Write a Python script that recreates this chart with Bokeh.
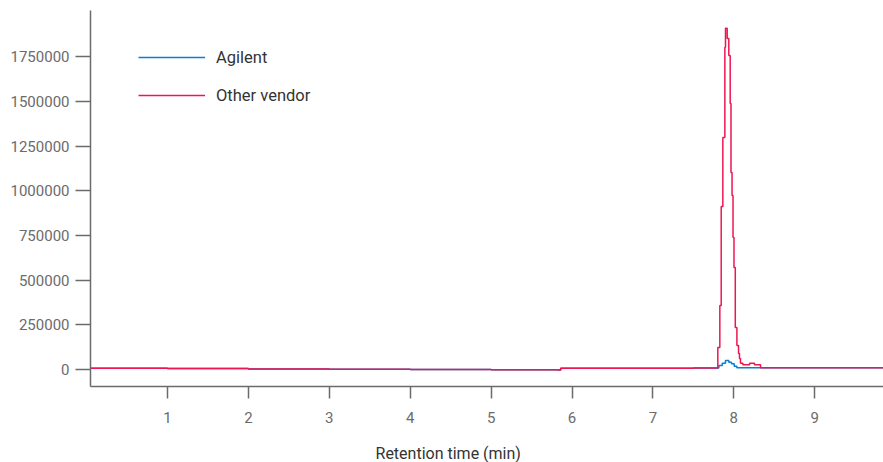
from bokeh.plotting import figure
from bokeh.layouts import column
from bokeh.models import Range1d, FixedTicker, BasicTickFormatter, Legend, LegendItem
from bokeh.core.properties import value
from bokeh.embed import file_html
from bokeh.resources import INLINE

# Retention time (min) and signal for the two chromatograms
t_other = [0.05, 1.0, 2.0, 3.0, 4.0, 5.0, 5.83, 5.86, 6.5, 7.0, 7.5, 7.782,
           7.802, 7.827, 7.844, 7.864, 7.889, 7.897, 7.918, 7.938, 7.955, 7.965,
           7.978, 7.990, 8.002, 8.018, 8.038, 8.058, 8.070, 8.082, 8.112, 8.195,
           8.255, 8.33, 9.0, 9.85]
v_other = [7000, 5000, 3000, 1000, 0, -2000, -3000, 7000, 7000, 7500, 8000, 8000,
           123000, 358000, 912000, 1298000, 1803000, 1909000, 1851000, 1756000, 1488000, 1102000,
           973000, 738000, 570000, 235000, 134000, 89000, 61000, 35000, 26000, 35000,
           26000, 10000, 9500, 9500]

t_agilent = [0.05, 1.0, 2.0, 3.0, 4.0, 5.0, 5.83, 5.86, 6.5, 7.0, 7.5, 7.80,
             7.815, 7.857, 7.897, 7.938, 7.971, 8.005, 8.037, 9.0, 9.85]
v_agilent = [7000, 5000, 3000, 1000, 0, -2000, -3000, 7000, 7000, 7500, 8000, 8000,
             22000, 35000, 50000, 41000, 32000, 18000, 9500, 9500, 9500]

y_ticks = [0, 250000, 500000, 750000, 1000000, 1250000, 1500000, 1750000]
x_ticks = [1, 2, 3, 4, 5, 6, 7, 8, 9]
x_title = "Retention time (min)"

FONT = "Roboto"
GREY = "#6b6b6b"

x_range = Range1d(0.048, 9.85)
p = figure(width=883, height=432, output_backend="svg", toolbar_location=None,
           x_range=x_range, y_range=Range1d(-95000, 2008000),
           min_border_left=90, min_border_right=0, min_border_top=10, min_border_bottom=46)
p.outline_line_color = None
p.grid.visible = False
p.background_fill_color = "white"
p.border_fill_color = "white"

r_ag = p.step(t_agilent, v_agilent, mode="after", line_color="#0b7fd1", line_width=1.5)
r_ot = p.step(t_other, v_other, mode="after", line_color="#ee1650", line_width=1.5)

for ax in (p.xaxis[0], p.yaxis[0]):
    ax.axis_line_color = GREY
    ax.axis_line_width = 1.5
    ax.major_tick_line_color = GREY
    ax.major_tick_line_width = 1.5
    ax.minor_tick_line_color = None
    ax.major_tick_in = 0
    ax.major_label_text_font = FONT
    ax.major_label_text_font_size = "15px"
    ax.major_label_text_color = GREY

p.xaxis.ticker = FixedTicker(ticks=x_ticks)
p.xaxis.major_tick_out = 12
p.xaxis.major_label_standoff = 13

p.yaxis.ticker = FixedTicker(ticks=y_ticks)
p.yaxis.formatter = BasicTickFormatter(use_scientific=False)
p.yaxis.major_tick_out = 15
p.yaxis.major_label_standoff = 6

legend = Legend(items=[LegendItem(label="Agilent", renderers=[r_ag]),
                       LegendItem(label="Other vendor", renderers=[r_ot])],
                location=(48, 281), padding=0, margin=0, spacing=18,
                glyph_width=67, glyph_height=20, label_height=20, label_standoff=11,
                label_text_font=FONT, label_text_font_size="16.5px", label_text_color="#333333",
                border_line_color=None, background_fill_alpha=0)
p.add_layout(legend, "center")

# x-axis title strip (title sits left of the frame centre, as in the original)
pt = figure(width=883, height=30, output_backend="svg", toolbar_location=None,
            x_range=x_range, y_range=Range1d(0, 1),
            min_border_left=90, min_border_right=0, min_border_top=0, min_border_bottom=0)
pt.outline_line_color = None
pt.grid.visible = False
pt.axis.visible = False
pt.border_fill_color = "white"
pt.text(x=[3.571], y=[0.3], text=[x_title], text_align="left", text_baseline="middle",
        text_font=value(FONT), text_font_size="16px", text_color="#333333")

layout = column(p, pt, spacing=0)
open("out.html", "w").write(file_html(layout, INLINE))
